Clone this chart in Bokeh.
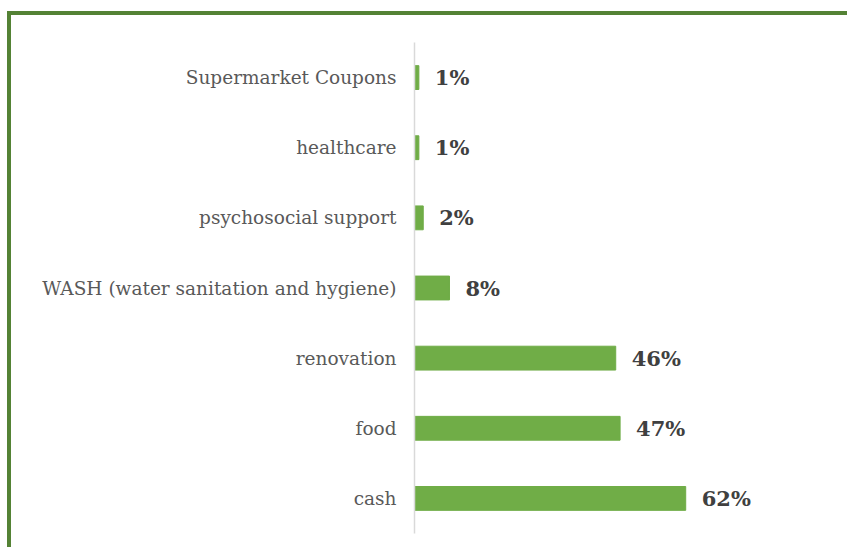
from bokeh.plotting import figure
from bokeh.models import Range1d, ColumnDataSource
from bokeh.core.properties import value
from bokeh.embed import file_html
from bokeh.resources import INLINE

categories = ["cash", "food", "renovation", "WASH (water sanitation and hygiene)",
              "psychosocial support", "healthcare", "Supermarket Coupons"]
shares = [62, 47, 46, 8, 2, 1, 1]
labels = [f"{v}%" for v in shares]

src = ColumnDataSource(dict(cat=categories, val=shares, lab=labels))

p = figure(width=840, height=536, y_range=categories, x_range=Range1d(0, 99.9),
           output_backend="svg", toolbar_location=None,
           min_border_left=403, min_border_right=0, min_border_top=27, min_border_bottom=18)
p.styles = {"border-top": "4px solid #548235", "border-left": "4px solid #548235",
            "margin-top": "11px", "margin-left": "7px"}

p.hbar(y="cat", right="val", height=0.34, color="#70AD47", source=src)
p.text(x="val", y="cat", text="lab", source=src, x_offset=16, text_baseline="middle",
       text_font=value("DejaVu Serif"), text_font_style="bold", text_font_size="21px",
       text_color="#404040")

p.xaxis.visible = False
p.xgrid.visible = False
p.ygrid.visible = False
p.outline_line_color = None
yax = p.yaxis[0]
yax.axis_line_color = "#D9D9D9"
yax.axis_line_width = 1.5
yax.major_tick_line_color = None
yax.minor_tick_line_color = None
yax.major_label_standoff = 12
yax.major_label_text_font = "DejaVu Serif"
yax.major_label_text_font_size = "18.5px"
yax.major_label_text_color = "#595959"

open("out.html", "w").write(file_html(p, INLINE))
